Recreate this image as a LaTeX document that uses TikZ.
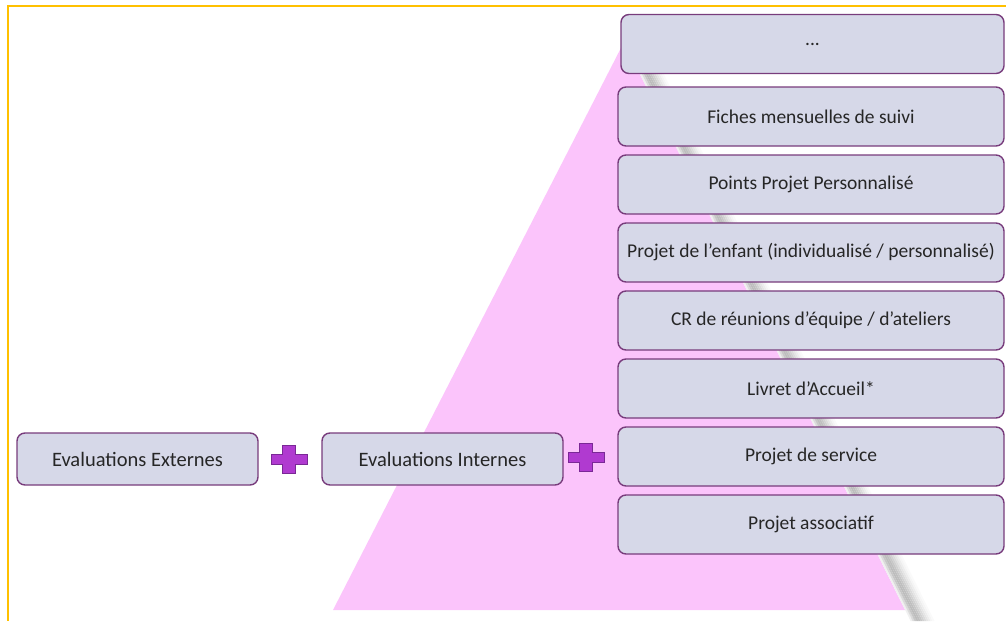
\documentclass[tikz,border=0pt]{standalone}
\usepackage{fontspec}
\setmainfont{Carlito}
\usetikzlibrary{shapes.geometric}
\definecolor{boxfill}{RGB}{214,216,232}
\definecolor{boxline}{RGB}{120,60,124}
\definecolor{pyramid}{RGB}{251,196,251}
\definecolor{plusfill}{RGB}{176,58,208}
\definecolor{plusline}{RGB}{122,40,150}
\definecolor{framecol}{RGB}{255,192,0}
\tikzset{
  block/.style={
    rectangle,
    rounded corners=8pt,
    draw=boxline,
    line width=1.4pt,
    fill=boxfill,
    text=black!85,
    inner xsep=2pt,
    font=\fontsize{19.5}{23}\selectfont
  },
  wide/.style={minimum width=386pt, minimum height=59pt},
  short/.style={minimum width=241pt, minimum height=52pt, font=\fontsize{20.5}{24}\selectfont}
}
\def\plussign#1#2{\draw[plusline, fill=plusfill, line width=0.8pt] (#1,#2) ++(-18,-5) -- ++(11.5,0) -- ++(0,-9) -- ++(13,0) -- ++(0,9) -- ++(11.5,0) -- ++(0,10) -- ++(-11.5,0) -- ++(0,9) -- ++(-13,0) -- ++(0,-9) -- ++(-11.5,0) -- cycle;}

\begin{document}
\begin{tikzpicture}[x=1pt, y=-1pt]
    \useasboundingbox (0,0) rectangle (1006,621);
    % pyramid and its shadow
    \fill[pyramid] (624,42) -- (905,610) -- (333,610) -- cycle;
    \foreach \i/\c in {0/6,1/14,2/22,3/26,4/25,5/22,6/18,7/14,8/10,9/7,10/4,11/2}
      \fill[black!\c] (624+2*\i,42) -- (626+2*\i,42) -- (912.6+2*\i,621) -- (910.6+2*\i,621) -- cycle;
    \draw[framecol, line width=2pt] (1006,6) -- (8,6) -- (8,621);
    % documents
    \node[block, wide, minimum width=383pt] (dots) at (812.5, 44) {...};
    \node[block, wide] (fiches) at (811, 116.5) {Fiches mensuelles de suivi};
    \node[block, wide] (points) at (811, 184.5) {Points Projet Personnalisé};
    \node[block, wide] (enfant) at (811, 252.5) {Projet de l’enfant (individualisé / personnalisé)};
    \node[block, wide] (cr) at (811, 320.5) {CR de réunions d’équipe / d’ateliers};
    \node[block, wide] (livret) at (811, 388.5) {Livret d’Accueil*};
    \node[block, wide] (service) at (811, 456.5) {Projet de service};
    \node[block, wide] (asso) at (811, 524.5) {Projet associatif};
    % evaluations
    \node[block, short] (ext) at (137.5, 459) {Evaluations Externes};
    \node[block, short] (int) at (442.5, 459) {Evaluations Internes};
    \plussign{289}{459}
    \plussign{586}{457}
\end{tikzpicture}
\end{document}
